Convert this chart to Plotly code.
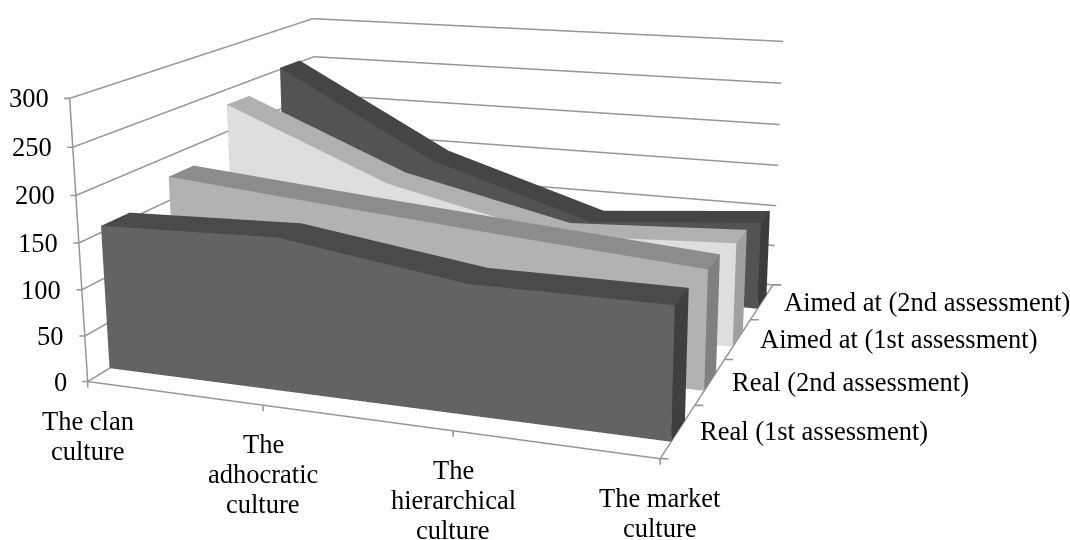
import plotly.graph_objects as go

categories = [["The clan", "culture"], ["The", "adhocratic", "culture"], ["The", "hierarchical", "culture"], ["The market", "culture"]]
series_names = ["Real (1st assessment)", "Real (2nd assessment)", "Aimed at (1st assessment)", "Aimed at (2nd assessment)"]
real_1st = [157, 163, 135, 135]
real_2nd = [177, 160, 144, 129]
aimed_1st = [232, 152, 108, 118]
aimed_2nd = [252, 148, 87, 104]
value_ticks = [0, 50, 100, 150, 200, 250, 300]

series_values = [real_1st, real_2nd, aimed_1st, aimed_2nd]
# front, top, end-cap shades
shades = [("#636363", "#4a4a4a", "#3f3f3f"),
          ("#b2b2b2", "#8c8c8c", "#808080"),
          ("#dedede", "#b0b0b0", "#a0a0a0"),
          ("#535353", "#454545", "#3c3c3c")]
GAP = 0.3
FONT = dict(family="Liberation Serif", size=26.5, color="#000000")
GREY = "#969696"
LIGHT = dict(ambient=1, diffuse=0, specular=0, fresnel=0, roughness=1)
X_MAX, Y_MAX, Z_MAX = len(categories) - 1, len(series_names), value_ticks[-1]


def mesh(quads, color):
    xs, ys, zs, i, j, k = [], [], [], [], [], []
    for q in quads:
        n = len(xs)
        for p in q:
            xs.append(p[0]); ys.append(p[1]); zs.append(p[2])
        i += [n, n]; j += [n + 1, n + 2]; k += [n + 2, n + 3]
    return go.Mesh3d(x=xs, y=ys, z=zs, i=i, j=j, k=k, color=color, flatshading=True,
                     lighting=LIGHT, hoverinfo="skip", showscale=False)


def rule(xs, ys, zs):
    return go.Scatter3d(x=xs, y=ys, z=zs, mode="lines", line=dict(color=GREY, width=3),
                        hoverinfo="skip", showlegend=False)


fig = go.Figure()
# wall gridlines: along the left wall, then along the back wall
for v in value_ticks:
    fig.add_trace(rule([0, 0, X_MAX], [0, Y_MAX, Y_MAX], [v, v, v]))
# axis lines
fig.add_trace(rule([0, 0], [0, 0], [0, Z_MAX]))
fig.add_trace(rule([0, X_MAX], [0, 0], [0, 0]))
fig.add_trace(rule([X_MAX, X_MAX], [0, Y_MAX], [0, 0]))

for s, vals in enumerate(series_values):
    y0, y1 = s + GAP, s + 1 - GAP
    n = len(vals)
    front, back, top = [], [], []
    for c in range(n - 1):
        front.append([(c, y0, 0), (c + 1, y0, 0), (c + 1, y0, vals[c + 1]), (c, y0, vals[c])])
        back.append([(c, y1, 0), (c + 1, y1, 0), (c + 1, y1, vals[c + 1]), (c, y1, vals[c])])
        top.append([(c, y0, vals[c]), (c + 1, y0, vals[c + 1]), (c + 1, y1, vals[c + 1]), (c, y1, vals[c])])
    caps = [[(0, y0, 0), (0, y1, 0), (0, y1, vals[0]), (0, y0, vals[0])],
            [(n - 1, y0, 0), (n - 1, y1, 0), (n - 1, y1, vals[-1]), (n - 1, y0, vals[-1])]]
    fig.add_trace(mesh(front + back, shades[s][0]))
    fig.add_trace(mesh(top, shades[s][1]))
    fig.add_trace(mesh(caps, shades[s][2]))


def tick(x, y, z, ax, ay):
    return dict(x=x, y=y, z=z, showarrow=True, arrowhead=0, arrowwidth=1.6, arrowcolor=GREY,
                standoff=0, startstandoff=0, ax=ax, ay=ay, font=dict(size=1), borderpad=0)


annotations = []
for v in value_ticks:
    annotations.append(tick(0, 0, v, -6, 0))
    annotations.append(dict(x=0, y=0, z=v, text=str(v), showarrow=False, font=FONT,
                            xanchor="right", yanchor="middle", xshift=-19))
for c, lines in enumerate(categories):
    annotations.append(tick(c, 0, 0, 0, 7))
    for ln, label in enumerate(lines):
        annotations.append(dict(x=c, y=0, z=0, text=label, showarrow=False, font=FONT,
                                xanchor="center", yanchor="middle", yshift=-39 - 30 * ln))
for s in range(Y_MAX + 1):
    annotations.append(tick(X_MAX, s, 0, 9, 0))
for s, label in enumerate(series_names):
    annotations.append(dict(x=X_MAX, y=s + 0.5, z=0, text=label, showarrow=False, font=FONT,
                            xanchor="left", yanchor="middle", xshift=20))

axis_off = dict(showbackground=False, showspikes=False, showticklabels=False, title="",
                showgrid=False, zeroline=False, showline=False, ticks="")

fig.update_layout(
    width=1248, height=1425, margin=dict(l=0, r=0, t=0, b=0), showlegend=False,
    paper_bgcolor="#ffffff",
    scene=dict(
        domain=dict(x=[0, 1], y=[0, 1]),
        xaxis=dict(axis_off, range=[0, X_MAX]),
        yaxis=dict(axis_off, range=[0, Y_MAX]),
        zaxis=dict(axis_off, range=[0, Z_MAX]),
        aspectmode="manual", aspectratio=dict(x=0.68, y=0.64, z=0.3346),
        camera=dict(eye=dict(x=0.72, y=-1.934, z=0.528),
                    center=dict(x=-0.012, y=-0.006, z=-0.004),
                    up=dict(x=-0.0809, y=0.236, z=0.968),
                    projection=dict(type="perspective")),
        annotations=annotations,
    ),
)

# Plotly's perspective has a fixed 45-degree field of view, so a flatter lens needs a larger scene,
# placed so its optical centre falls where the original chart's does.
post = """
var gd = document.getElementById('{plot_id}');
document.documentElement.style.overflow = 'hidden';
document.body.style.overflow = 'hidden';
gd.style.position = 'absolute';
gd.style.left = '-178px';
gd.style.top = '-508px';
"""
fig.write_html("out.html", post_script=post, config=dict(displayModeBar=False))
